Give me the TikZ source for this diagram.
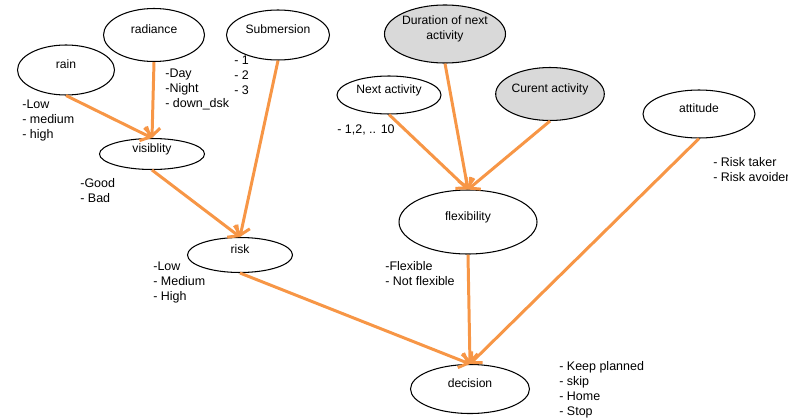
\documentclass[tikz,border=0pt]{standalone}
\usepackage{fontspec}
\setmainfont{Liberation Sans}
\usepackage{tikz}
\usetikzlibrary{shapes.geometric}
\usetikzlibrary{arrows.meta}
\definecolor{linkorange}{RGB}{247,150,70}
\definecolor{hiddengray}{RGB}{217,217,217}
\tikzset{
  var/.style={shape=ellipse, draw=black, line width=0.6pt, inner sep=0pt, text depth=7pt,
    font=\fontsize{6.9}{8.5}\selectfont, align=center},
  hidden var/.style={var, fill=hiddengray},
  ellsize/.style 2 args={minimum width=#1*0.02cm, minimum height=#2*0.02cm},
  link/.style={draw=linkorange, line width=1.7pt, -{Straight Barb[length=4.5pt, width=9pt]}},
  vals/.style={anchor=north west, inner sep=0pt, align=left, font=\fontsize{7.1}{8.5}\selectfont}
}

\begin{document}
\begin{tikzpicture}[x=0.02cm, y=-0.02cm]
        \useasboundingbox (0,0) rectangle (788,419);
        % nodes
        \node[var, ellsize={97}{50}] (rain) at (66,70) {rain};
        \node[var, ellsize={101}{53}] (rad) at (154,35) {radiance};
        \node[var, ellsize={103}{50}] (sub) at (278,35) {Submersion};
        \node[var, ellsize={105}{31}] (visib) at (152,154) {visiblity};
        \node[var, ellsize={105}{35}] (risk) at (240,255) {risk};
        \node[hidden var, ellsize={104}{58}] (dur) at (445,34) {Duration of next\\activity};
        \node[var, ellsize={104}{38}] (next) at (389,95) {Next activity};
        \node[hidden var, ellsize={104}{53}] (cur) at (550,94) {Curent activity};
        \node[var, ellsize={112}{48}] (att) at (699,114) {attitude};
        \node[var, ellsize={138}{64}] (flex) at (468,222) {flexibility};
        \node[var, ellsize={119}{49}] (dec) at (470,389) {decision};
        % value lists
        \node[vals] (rainvals) at (22,100) {-Low\\- medium\\- high};
        \node[vals] (radvals) at (165,69) {-Day\\-Night\\- down\_dsk};
        \node[vals] (subvals) at (234,56) {- 1\\- 2\\- 3};
        \node[vals] (visibvals) at (80,178) {-Good\\- Bad};
        \node[vals] (riskvals) at (153,262) {-Low\\- Medium\\- High};
        \node[vals] (nextvals) at (337,124) {- 1,2, .. 10};
        \node[vals] (flexvals) at (385,261) {-Flexible\\- Not flexible};
        \node[vals] (attvals) at (713,157) {- Risk taker\\- Risk avoider};
        \node[vals] (decvals) at (559,361) {- Keep planned\\- skip\\- Home\\- Stop};
        % links
        \draw[link] (rain.south) -- (visib.north);
        \draw[link] (rad.south) -- (visib.north);
        \draw[link] (visib.south) -- (risk.north);
        \draw[link] (sub.south) -- (risk.north);
        \draw[link] (dur.south) -- (flex.north);
        \draw[link] (next.south) -- (flex.north);
        \draw[link] (cur.south) -- (flex.north);
        \draw[link] (risk.south) -- (dec.north);
        \draw[link] (flex.south) -- (dec.north);
        \draw[link] (att.south) -- (dec.north);
    \end{tikzpicture}
\end{document}
